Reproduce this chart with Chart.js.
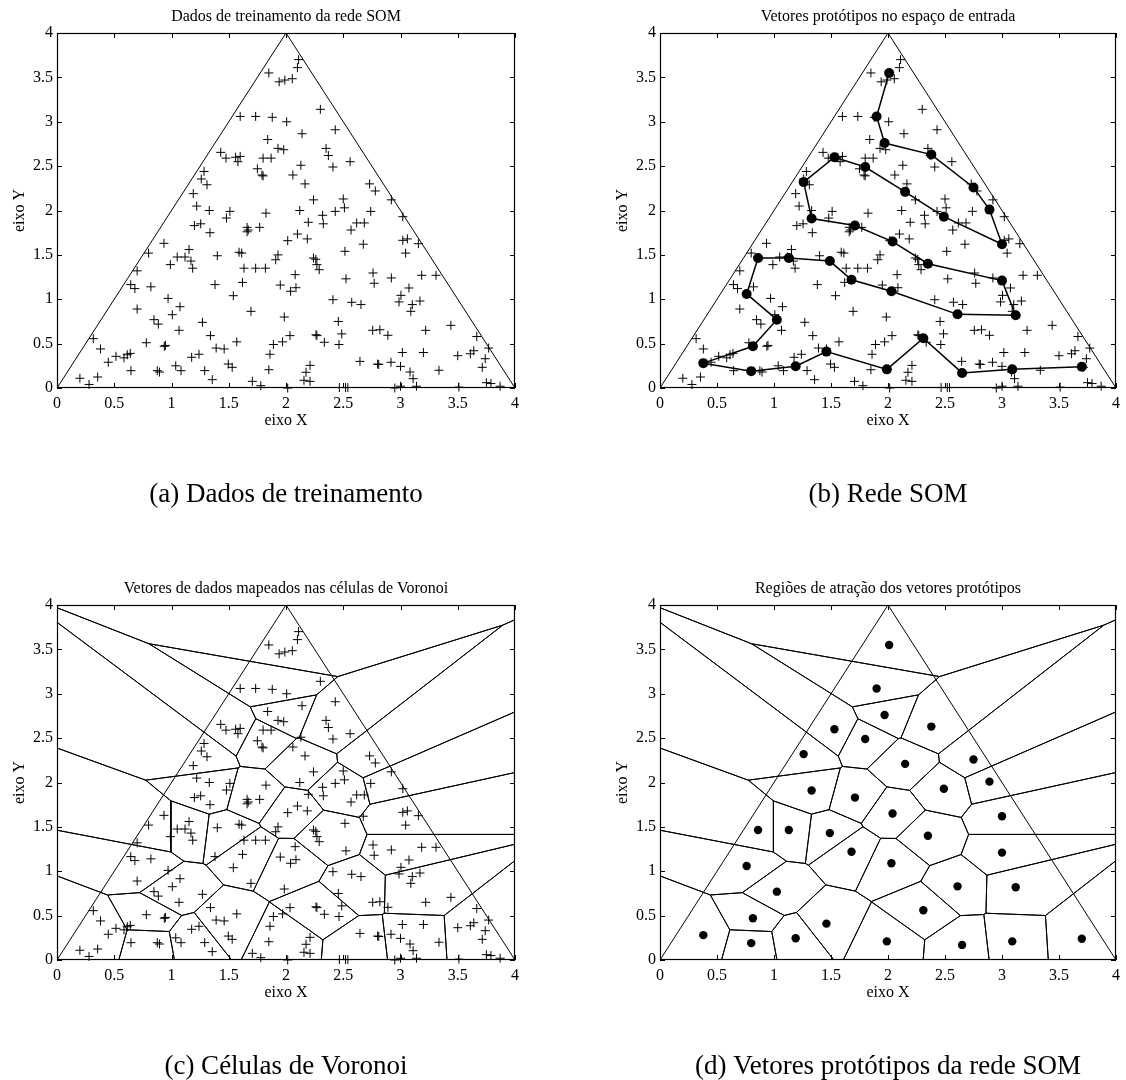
<!DOCTYPE html>
<html>
<head>
<meta charset="utf-8">
<script src="https://cdn.jsdelivr.net/npm/chart.js@4.4.1/dist/chart.umd.min.js"></script>
<style>
  body { margin: 0; background: #fff; }
  #fig { position: relative; width: 1126px; height: 1080px; }
  #fig canvas { position: absolute; }
</style>
</head>
<body>
<div id="fig">
  <canvas id="chartA" width="560" height="508" style="left:0;top:0"></canvas>
  <canvas id="chartB" width="523" height="508" style="left:603px;top:0"></canvas>
  <canvas id="chartC" width="560" height="508" style="left:0;top:572px"></canvas>
  <canvas id="chartD" width="523" height="508" style="left:603px;top:572px"></canvas>
</div>
<script>
// training samples (uniform inside the triangle)
const trainX = [
  1.85, 1.94, 1.99, 1.60, 1.735, 1.88, 2.006, 1.84, 1.93, 1.98, 1.43, 1.476, 1.56, 1.60, 1.58, 1.80, 1.87, 1.75, 1.79, 1.80,
  1.284, 1.26, 1.31, 1.19, 1.22, 1.33, 1.51,
  2.11, 2.10, 2.055, 2.30, 2.14, 2.43, 2.35, 2.37, 2.13, 2.06, 2.41, 2.56, 2.166, 2.73, 2.78, 2.24, 2.50, 2.51, 2.43, 2.12, 2.74, 2.92,
  1.48, 1.825, 1.20, 1.255, 1.336, 1.66, 1.67, 1.66, 1.77, 2.015, 0.934, 1.153, 0.80, 1.05, 1.118, 1.17, 1.185, 0.99, 1.40, 1.59,
  1.613, 1.633, 1.735, 1.82, 1.93, 1.91, 0.70, 0.644, 0.68, 0.82, 1.38, 1.62, 1.95, 0.97, 1.54, 1.074, 0.70, 1.007, 1.694, 1.985,
  0.847, 0.885, 1.27, 1.066, 1.34, 0.317, 0.38, 0.78, 0.937, 0.947, 1.39, 1.46, 1.57, 0.448, 0.515, 0.585, 0.614, 0.64, 0.646, 0.876,
  0.895, 1.176, 1.24, 1.037, 1.083, 1.29, 1.356, 1.496, 1.53, 1.706, 1.78, 1.85, 1.86, 1.89, 1.97, 0.20, 0.28, 0.355,
  2.32, 3.02, 2.195, 2.326, 2.617, 2.684, 2.568, 2.10, 2.186, 2.675, 3.02, 3.06, 3.156, 2.515, 3.045, 2.24, 2.26, 2.27, 2.29, 2.08,
  2.524, 2.76, 2.77, 2.92, 3.185, 3.31, 2.087, 2.04, 3.074, 3.004, 2.987, 2.41, 2.574, 2.655, 3.103, 3.17, 3.09, 2.457, 2.035, 2.262,
  2.27, 2.335, 2.487, 2.463, 2.757, 2.82, 2.89, 3.22, 3.44, 3.666, 3.77, 3.64, 3.61, 3.74, 3.714, 3.50, 3.20, 3.016, 2.646, 2.80,
  2.81, 2.917, 3.00, 3.083, 3.11, 3.14, 3.336, 2.21, 2.175, 2.157, 2.21, 2.015, 2.466, 2.52, 2.54, 2.95, 3.0, 3.51, 3.75, 3.79, 3.87
];
const trainY = [
  3.55, 3.45, 3.47, 3.06, 3.06, 3.05, 3.00, 2.80, 2.70, 2.685, 2.655, 2.59, 2.60, 2.61, 2.55, 2.59, 2.59, 2.47, 2.40, 2.39,
  2.44, 2.355, 2.29, 2.19, 2.05, 2.00, 1.99,
  3.70, 3.61, 3.485, 3.14, 2.865, 2.91, 2.70, 2.62, 2.51, 2.40, 2.49, 2.55, 2.30, 2.30, 2.22, 2.12, 2.13, 2.03, 1.99, 2.00, 1.99, 2.12,
  1.915, 1.97, 1.83, 1.85, 1.75, 1.81, 1.78, 1.76, 1.81, 1.66, 1.63, 1.56, 1.52, 1.476, 1.476, 1.43, 1.35, 1.39, 1.49, 1.53,
  1.52, 1.35, 1.35, 1.35, 1.50, 1.445, 1.32, 1.165, 1.12, 1.14, 1.165, 1.19, 1.16, 1.01, 1.04, 0.916, 0.89, 0.826, 0.864, 0.80,
  0.77, 0.72, 0.74, 0.65, 0.59, 0.556, 0.44, 0.51, 0.47, 0.48, 0.45, 0.44, 0.52, 0.29, 0.357, 0.34, 0.375, 0.39, 0.195, 0.195,
  0.18, 0.346, 0.38, 0.25, 0.195, 0.196, 0.094, 0.27, 0.233, 0.075, 0.026, 0.206, 0.38, 0.49, 0.52, 0.11, 0.04, 0.124,
  1.946, 1.93, 1.867, 1.85, 1.86, 1.86, 1.78, 1.735, 1.68, 1.62, 1.664, 1.68, 1.626, 1.54, 1.52, 1.465, 1.45, 1.39, 1.333, 1.277,
  1.23, 1.296, 1.18, 1.24, 1.27, 1.27, 1.13, 1.09, 1.127, 1.044, 0.97, 0.995, 0.966, 0.94, 0.94, 0.98, 0.864, 0.75, 0.59, 0.60,
  0.59, 0.515, 0.61, 0.49, 0.65, 0.656, 0.594, 0.65, 0.706, 0.58, 0.45, 0.42, 0.386, 0.33, 0.233, 0.364, 0.40, 0.40, 0.30, 0.27,
  0.265, 0.29, 0.244, 0.18, 0.105, 0.02, 0.20, 0.255, 0.177, 0.087, 0.075, 0.0, 0.005, 0.005, 0.005, 0.0, 0.02, 0.01, 0.06, 0.05, 0.02
];

// SOM prototypes, in chain order (1-D map with 36 neurons)
const protoX = [2.01, 1.90, 1.97, 2.38, 2.75, 2.89, 3.00, 2.49, 2.15, 1.80, 1.53, 1.26,
                1.33, 1.71, 2.04, 2.35, 3.00, 3.12, 2.61, 2.03, 1.68, 1.49, 1.13, 0.86,
                0.76, 1.025, 0.815, 0.38, 0.80, 1.19, 1.46, 1.99, 2.31, 2.65, 3.09, 3.70];
const protoY = [3.55, 3.06, 2.76, 2.63, 2.26, 2.01, 1.62, 1.93, 2.21, 2.49, 2.60, 2.32,
                1.91, 1.83, 1.65, 1.40, 1.21, 0.82, 0.83, 1.09, 1.22, 1.43, 1.465, 1.465,
                1.06, 0.77, 0.47, 0.28, 0.19, 0.245, 0.41, 0.21, 0.56, 0.17, 0.21, 0.24];

// input domain boundary
const triX = [0, 2, 4];
const triY = [0, 4, 0];

const tickValues = [0, 0.5, 1, 1.5, 2, 2.5, 3, 3.5, 4];

const panelTitles = [
  'Dados de treinamento da rede SOM',
  'Vetores protótipos no espaço de entrada',
  'Vetores de dados mapeados nas células de Voronoi',
  'Regiões de atração dos vetores protótipos'
];
const captions = [
  '(a) Dados de treinamento',
  '(b) Rede SOM',
  '(c) Células de Voronoi',
  '(d) Vetores protótipos da rede SOM'
];

const SERIF = '"Liberation Serif", "Times New Roman", serif';
Chart.defaults.font.family = SERIF;
Chart.defaults.font.size = 16;
Chart.defaults.color = '#000';

const toPoints = (xs, ys) => xs.map((x, i) => ({x: x, y: ys[i]}));

// Voronoi cell of prototype i, clipped to the [0,4]x[0,4] box
function voronoiCell(i) {
  let poly = [[0, 0], [4, 0], [4, 4], [0, 4]];
  for (let j = 0; j < protoX.length; j++) {
    if (j === i) continue;
    const nx = protoX[j] - protoX[i], ny = protoY[j] - protoY[i];
    const c = (nx * (protoX[j] + protoX[i]) + ny * (protoY[j] + protoY[i])) / 2;
    const out = [];
    for (let k = 0; k < poly.length; k++) {
      const p = poly[k], q = poly[(k + 1) % poly.length];
      const dp = nx * p[0] + ny * p[1] - c;
      const dq = nx * q[0] + ny * q[1] - c;
      if (dp <= 0) out.push(p);
      if ((dp < 0 && dq > 0) || (dp > 0 && dq < 0)) {
        const t = dp / (dp - dq);
        out.push([p[0] + t * (q[0] - p[0]), p[1] + t * (q[1] - p[1])]);
      }
    }
    poly = out;
  }
  return poly;
}

const lineSet = (data, width) => ({
  data: data, showLine: true, borderColor: '#000', borderWidth: width,
  pointRadius: 0, pointHoverRadius: 0, fill: false
});

const triangle = () => lineSet(toPoints(triX, triY), 1);

const samples = () => ({
  data: toPoints(trainX, trainY), pointStyle: 'cross', pointRadius: 4.5,
  borderColor: '#000', borderWidth: 1, clip: false
});

const prototypes = (r) => ({
  data: toPoints(protoX, protoY), pointStyle: 'circle', pointRadius: r,
  backgroundColor: '#000', borderColor: '#000', borderWidth: 0, clip: false
});

const voronoiSets = () => protoX.map((_, i) => {
  const cell = voronoiCell(i);
  const pts = cell.map(p => ({x: p[0], y: p[1]}));
  pts.push(pts[0]);
  return lineSet(pts, 1);
});

// axes box with inward tick marks on all four sides
const boxFrame = {
  id: 'boxFrame',
  afterDatasetsDraw(chart) {
    const {ctx, chartArea: a, scales: {x, y}} = chart;
    const len = 5;
    ctx.save();
    ctx.strokeStyle = '#000';
    ctx.lineWidth = 1;
    ctx.beginPath();
    tickValues.forEach(v => {
      const px = Math.round(x.getPixelForValue(v)) + 0.5;
      ctx.moveTo(px, a.bottom); ctx.lineTo(px, a.bottom - len);
      ctx.moveTo(px, a.top); ctx.lineTo(px, a.top + len);
      const py = Math.round(y.getPixelForValue(v)) + 0.5;
      ctx.moveTo(a.left, py); ctx.lineTo(a.left + len, py);
      ctx.moveTo(a.right, py); ctx.lineTo(a.right - len, py);
    });
    ctx.stroke();
    ctx.lineWidth = 1.2;
    ctx.strokeRect(a.left + 0.5, a.top + 0.5, a.width - 1, a.height - 1);
    ctx.restore();
  }
};

const plainTick = v => String(v);

function makeChart(id, idx, datasets, padRight) {
  return new Chart(document.getElementById(id), {
    type: 'scatter',
    data: {datasets: datasets},
    options: {
      responsive: false,
      animation: false,
      events: [],
      layout: {padding: {left: 0, right: padRight, top: 0, bottom: 0}},
      plugins: {
        legend: {display: false},
        tooltip: {enabled: false},
        // title and caption centred over the plot area, not the canvas
        title: {
          display: true, fullSize: false, text: panelTitles[idx], color: '#000',
          font: {family: SERIF, size: 16, weight: 'normal', lineHeight: 1.2},
          padding: {top: 7.4, bottom: 6.4}
        },
        subtitle: {
          display: true, fullSize: false, position: 'bottom', text: captions[idx], color: '#000',
          font: {family: SERIF, size: 27, weight: 'normal', lineHeight: 1},
          padding: {top: 0, bottom: 0}
        }
      },
      scales: {
        x: {
          type: 'linear', min: 0, max: 4,
          grid: {display: false, drawTicks: false},
          border: {display: false},
          ticks: {stepSize: 0.5, padding: 6, maxRotation: 0, autoSkip: false, callback: plainTick},
          title: {display: true, text: 'eixo X', padding: {top: 0, bottom: 50.4}},
          afterFit(s) { s.height = 93; }
        },
        y: {
          type: 'linear', min: 0, max: 4,
          grid: {display: false, drawTicks: false},
          border: {display: false},
          ticks: {stepSize: 0.5, padding: 4, autoSkip: false, callback: plainTick},
          title: {display: true, text: 'eixo Y', padding: {top: 10.4, bottom: 0}},
          afterFit(s) { s.width = 57; }
        }
      }
    },
    plugins: [boxFrame]
  });
}

makeChart('chartA', 0, [samples(), triangle()], 45);
makeChart('chartB', 1, [prototypes(5), lineSet(toPoints(protoX, protoY), 1.5), samples(), triangle()], 8);
makeChart('chartC', 2, [samples(), triangle()].concat(voronoiSets()), 45);
makeChart('chartD', 3, [prototypes(4.2), triangle()].concat(voronoiSets()), 8);
</script>
</body>
</html>
